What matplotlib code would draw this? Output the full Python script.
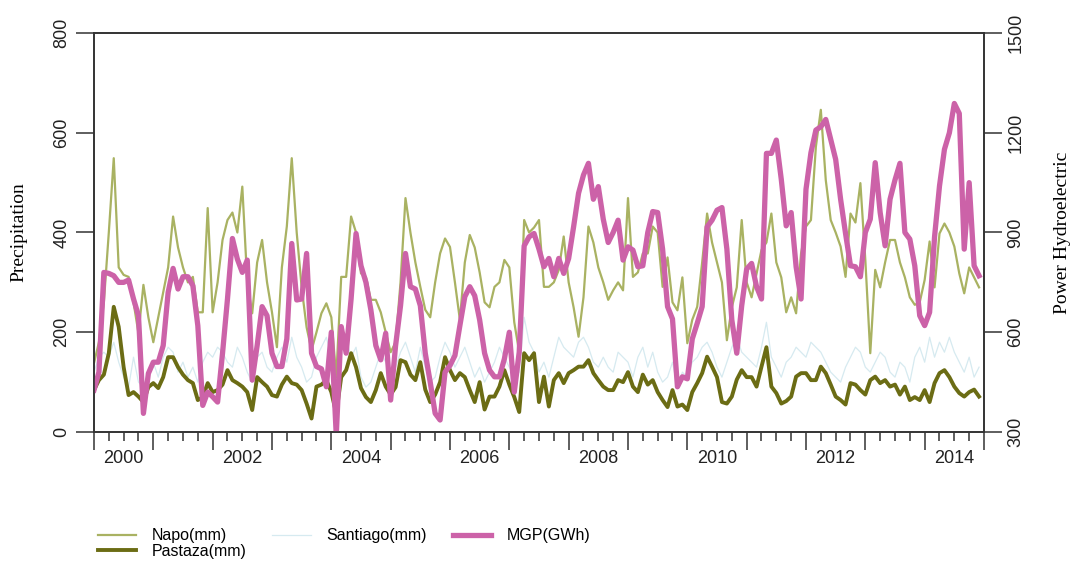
import numpy as np
import matplotlib.pyplot as plt

# monthly series, Jan 2000 .. Dec 2014
napo = [138, 180, 260, 400, 549, 330, 315, 311, 260, 198, 295, 230,
        180, 230, 280, 330, 432, 370, 330, 300, 311, 240, 240, 449,
        240, 300, 385, 425, 440, 400, 492, 300, 238, 340, 385, 300,
        240, 170, 330, 412, 549, 400, 290, 210, 164, 200, 238, 258,
        230, 110, 311, 311, 432, 400, 318, 311, 265, 265, 240, 200,
        160, 180, 300, 469, 400, 340, 291, 245, 230, 300, 358, 388,
        371, 300, 225, 340, 395, 370, 320, 260, 250, 291, 300, 345,
        330, 220, 160, 425, 400, 410, 425, 291, 291, 300, 325, 392,
        300, 250, 191, 270, 412, 380, 330, 300, 265, 284, 300, 284,
        469, 311, 320, 358, 358, 412, 400, 291, 350, 260, 244, 310,
        178, 225, 251, 340, 438, 380, 340, 300, 184, 250, 290, 425,
        300, 270, 318, 365, 380, 438, 340, 310, 240, 270, 238, 358,
        412, 425, 572, 646, 505, 425, 400, 372, 311, 438, 420, 499,
        345, 158, 325, 290, 340, 385, 385, 340, 310, 270, 255, 260,
        305, 382, 290, 398, 418, 400, 372, 318, 278, 330, 310, 290]

pastaza = [84, 104, 115, 158, 251, 211, 130, 74, 80, 71, 60, 90,
           98, 88, 110, 150, 150, 130, 115, 104, 98, 64, 70, 98,
           80, 84, 95, 124, 104, 98, 91, 80, 44, 110, 100, 91,
           74, 71, 95, 111, 98, 95, 84, 57, 27, 91, 95, 104,
           80, 37, 110, 124, 158, 130, 88, 70, 60, 84, 118, 91,
           75, 90, 144, 140, 115, 104, 140, 85, 60, 75, 100, 150,
           124, 104, 118, 110, 84, 60, 100, 45, 71, 71, 91, 124,
           95, 70, 40, 158, 144, 158, 60, 111, 51, 104, 118, 98,
           118, 124, 131, 131, 144, 118, 104, 91, 84, 84, 104, 100,
           120, 91, 80, 115, 95, 104, 80, 64, 50, 84, 51, 55,
           44, 80, 98, 118, 151, 131, 110, 60, 57, 71, 105, 124,
           110, 110, 91, 131, 170, 91, 78, 57, 62, 71, 111, 118,
           118, 104, 104, 131, 118, 95, 71, 64, 55, 98, 95, 84,
           75, 104, 111, 98, 104, 91, 95, 75, 91, 64, 70, 64,
           84, 60, 98, 118, 124, 110, 91, 78, 71, 80, 85, 71]

santiago = [120, 150, 160, 150, 180, 140, 110, 90, 150, 100, 90, 120,
            140, 110, 150, 170, 160, 120, 140, 110, 130, 100, 140, 160,
            150, 170, 160, 140, 130, 170, 150, 120, 100, 150, 160, 130,
            120, 150, 170, 140, 190, 150, 130, 100, 110, 150, 170, 190,
            150, 120, 170, 190, 150, 170, 110, 90, 100, 130, 160, 140,
            110, 130, 160, 180, 150, 120, 170, 130, 100, 110, 150, 180,
            160, 130, 150, 170, 140, 110, 130, 100, 120, 140, 170, 150,
            130, 110, 120, 230, 180, 160, 120, 140, 110, 150, 190, 170,
            160, 150, 180, 190, 170, 140, 130, 150, 130, 120, 160, 150,
            140, 110, 150, 170, 130, 160, 120, 100, 110, 140, 90, 120,
            110, 140, 150, 170, 180, 160, 130, 110, 140, 170, 190, 160,
            150, 140, 130, 170, 220, 150, 130, 110, 140, 150, 170, 160,
            150, 180, 170, 160, 140, 120, 110, 100, 130, 150, 170, 160,
            130, 120, 140, 160, 150, 120, 110, 140, 130, 100, 150, 170,
            140, 190, 150, 180, 160, 190, 160, 140, 120, 150, 110, 130]

mgp = [426, 480, 780, 777, 770, 750, 750, 757, 700, 650, 356, 476,
       510, 510, 560, 720, 792, 730, 767, 767, 740, 620, 380, 420,
       406, 390, 537, 700, 882, 820, 780, 817, 456, 560, 677, 650,
       537, 497, 497, 580, 867, 697, 700, 837, 537, 497, 490, 436,
       600, 290, 617, 537, 700, 897, 800, 750, 667, 560, 517, 597,
       396, 560, 680, 837, 737, 730, 680, 537, 450, 356, 336, 480,
       500, 530, 620, 707, 737, 710, 637, 537, 486, 466, 466, 520,
       600, 420, 540, 860, 887, 897, 850, 797, 822, 767, 822, 777,
       822, 917, 1018, 1073, 1108, 1000, 1038, 940, 870, 900, 937, 817,
       857, 847, 797, 800, 900, 963, 960, 850, 677, 640, 436, 466,
       460, 580, 627, 677, 917, 937, 967, 975, 850, 637, 537, 680,
       790, 807, 737, 700, 1138, 1138, 1178, 1060, 920, 960, 797, 700,
       1030, 1140, 1208, 1218, 1240, 1180, 1120, 1000, 897, 800, 797, 767,
       900, 940, 1110, 960, 860, 1000, 1058, 1108, 900, 880, 800, 650,
       620, 660, 887, 1040, 1150, 1200, 1288, 1258, 850, 1050, 800, 770]

t = 2000 + np.arange(len(mgp)) / 12.0
year_labels = [2000, 2002, 2004, 2006, 2008, 2010, 2012, 2014]

sans = ['Liberation Sans Narrow', 'Liberation Sans', 'DejaVu Sans']
serif = ['Liberation Serif', 'DejaVu Serif']
plt.rcParams['font.family'] = sans

fig = plt.figure(figsize=(10.74, 5.74), dpi=100)
ax = fig.add_axes([0.0875, 0.2474, 0.8287, 0.6951])
ax2 = ax.twinx()

l_san, = ax.plot(t, santiago, color='#d6eaf0', lw=0.9, label='Santiago(mm)')
l_napo, = ax.plot(t, napo, color='#a9b262', lw=1.6, label='Napo(mm)')
l_pas, = ax.plot(t, pastaza, color='#6b6c14', lw=2.8, label='Pastaza(mm)')
l_mgp, = ax2.plot(t, mgp, color='#cc62a8', lw=3.8, label='MGP(GWh)')

ax.set_xlim(2000, 2015)
ax.set_ylim(0, 800)
ax2.set_ylim(300, 1500)

for a in (ax, ax2):
    for s in a.spines.values():
        s.set_color('#333333')
        s.set_linewidth(1.2)

ax.set_yticks([200, 400, 600], minor=True)
ax.grid(axis='y', which='minor', color='#cccccc', lw=1.0)
ax.set_axisbelow(True)

ax.set_xticks(range(2000, 2016))
ax.set_xticklabels([])
ax.set_xticks(np.arange(2000, 2015.01, 0.25), minor=True)
ax.tick_params(axis='x', which='major', length=13, width=1.1, color='#333333')
ax.tick_params(axis='x', which='minor', length=6.5, width=1.1, color='#333333')
ax.tick_params(axis='y', which='minor', length=0)
for yr in year_labels:
    ax.text(yr + 0.5, -0.045, str(yr), transform=ax.get_xaxis_transform(),
            ha='center', va='top', fontsize=13, color='#222222')

ax.set_yticks([0, 200, 400, 600, 800])
ax.tick_params(axis='y', which='major', length=13, width=1.1, color='#333333',
               labelsize=13, labelcolor='#222222', pad=4)
for lb in ax.get_yticklabels():
    lb.set_rotation(90)
    lb.set_va('center')

ax2.set_yticks([300, 600, 900, 1200, 1500])
ax2.tick_params(axis='y', length=13, width=1.1, color='#333333',
                labelsize=13, labelcolor='#222222', pad=4)
for lb in ax2.get_yticklabels():
    lb.set_rotation(90)
    lb.set_va('center')

ax.set_ylabel('Precipitation', family=serif, fontsize=14, labelpad=19)
ax2.set_ylabel('Power Hydroelectric', family=serif, fontsize=14, labelpad=21)

fig.legend(handles=[l_napo, l_pas, l_san, l_mgp], ncol=3, frameon=False,
           loc='upper left', bbox_to_anchor=(0.085, 0.091), fontsize=11.5,
           handlelength=2.4, handletextpad=1.0, columnspacing=1.6,
           labelspacing=0.05, borderaxespad=0)

fig.savefig('out.png', dpi=100)
